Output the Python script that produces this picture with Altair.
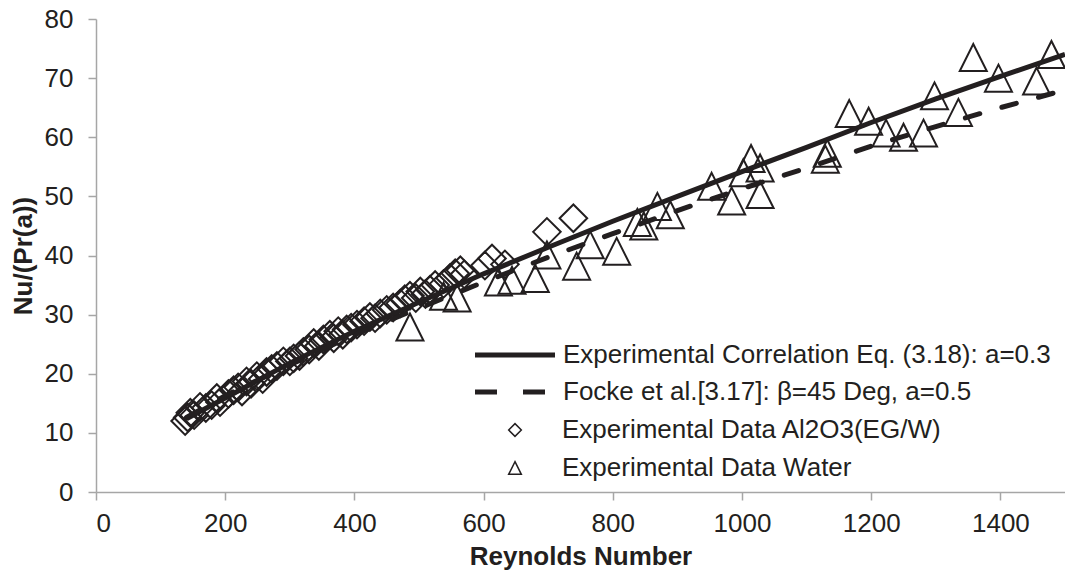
import altair as alt
import pandas as pd

# ---------------- data ----------------
dia_re = [138, 142, 146, 152, 161, 170, 179, 187, 192, 205, 213, 220, 226, 233, 240,
          249, 258, 264, 272, 280, 290, 300, 306, 315, 321, 330, 337, 345, 352, 362,
          368, 375, 382, 388, 395, 404, 415, 424, 432, 440, 450, 460, 471, 478, 486,
          495, 502, 510, 517, 525, 538, 548, 556, 564, 570, 602, 613, 633, 698, 739]
dia_nu = [12.0, 12.6, 13.4, 13.0, 14.4, 14.2, 14.7, 15.9, 15.2, 16.6, 17.2, 17.7, 17.0, 18.7, 18.3,
          19.6, 19.1, 20.3, 20.8, 21.3, 22.1, 22.1, 22.6, 23.0, 23.7, 24.1, 25.2, 24.7, 25.8, 26.6,
          26.0, 27.2, 26.6, 27.5, 27.8, 28.3, 28.9, 29.6, 29.4, 30.2, 30.8, 31.2, 31.9, 32.6, 33.2,
          32.8, 33.9, 33.5, 34.2, 35.0, 35.2, 36.2, 37.0, 37.5, 36.8, 38.3, 39.5, 38.5, 44.0, 46.3]

wat_re = [486, 538, 559, 623, 644, 680, 698, 744, 765, 806, 838, 848, 869, 889, 953,
          984, 1002, 1014, 1028, 1028, 1129, 1132, 1166, 1196, 1223, 1250, 1281, 1298,
          1335, 1358, 1397, 1456, 1479]
wat_nu = [27.9, 33.1, 32.8, 35.5, 35.8, 36.1, 40.1, 38.2, 41.8, 40.7, 45.6, 45.0, 48.3, 46.9, 51.7,
          49.2, 54.0, 56.4, 54.8, 50.3, 56.3, 57.3, 64.0, 62.7, 60.7, 60.0, 60.7, 67.0,
          64.2, 73.5, 70.0, 69.5, 74.0]

line_re = [140, 200, 300, 400, 500, 600, 700, 800, 900, 1000, 1100, 1200, 1300, 1400, 1500]
corr_nu = [12.4, 15.9, 21.8, 27.2, 32.1, 36.9, 41.4, 45.8, 50.0, 54.2, 58.3, 62.5, 66.5, 70.3, 74.0]
focke_nu = [12.6, 16.3, 21.5, 26.6, 31.1, 35.5, 39.7, 43.7, 47.6, 51.3, 54.8, 58.5, 61.8, 65.0, 68.0]

x_ticks = [0, 200, 400, 600, 800, 1000, 1200, 1400]
y_ticks = [0, 10, 20, 30, 40, 50, 60, 70, 80]

S_CORR = "Experimental Correlation Eq. (3.18): a=0.3"
S_FOCKE = "Focke et al.[3.17]: β=45 Deg, a=0.5"
S_AL = "Experimental Data Al2O3(EG/W)"
S_W = "Experimental Data Water"

# ---------------- styling ----------------
INK = "#231f20"
GREY = "#a6a6a6"
FONT = "Liberation Sans"
FS = 26
TRI = "M0,-1L1,1L-1,1Z"

xs = alt.Scale(domain=[0, 1500], nice=False, zero=False)
ys = alt.Scale(domain=[0, 80], nice=False)

x_axis = alt.Axis(values=x_ticks, title="Reynolds Number", format="d",
                  titlePadding=7, labelPadding=10)
y_axis = alt.Axis(values=y_ticks, title="Nu/(Pr(a))", format="d",
                  titlePadding=8, labelPadding=15)

corr_df = pd.DataFrame({"Re": line_re, "v": corr_nu})
focke_df = pd.DataFrame({"Re": line_re, "v": focke_nu})
dia_df = pd.DataFrame({"Re": dia_re, "v": dia_nu})
wat_df = pd.DataFrame({"Re": wat_re, "v": wat_nu})

X = alt.X("Re:Q", scale=xs, axis=x_axis)
Y = alt.Y("v:Q", scale=ys, axis=y_axis)

diamonds = alt.Chart(dia_df).mark_point(
    shape="diamond", size=760, filled=False, stroke=INK, strokeWidth=2, opacity=1
).encode(x=X, y=Y)

triangles = alt.Chart(wat_df).mark_point(
    shape=TRI, size=729, filled=False, stroke=INK, strokeWidth=2, opacity=1
).encode(x=X, y=Y)

solid = alt.Chart(corr_df).mark_line(color=INK, strokeWidth=5).encode(x=X, y=Y)
dashed = alt.Chart(focke_df).mark_line(
    color=INK, strokeWidth=5, strokeDash=[15, 23], strokeCap="round"
).encode(x=X, y=Y)

# legend-only layers (no drawable rows)
leg_lines = pd.DataFrame({"lseries": [S_CORR, S_FOCKE], "Re": [None, None], "v": [None, None]})
leg_pts = pd.DataFrame({"pseries": [S_AL, S_W], "Re": [None, None], "v": [None, None]})

line_legend = alt.Chart(leg_lines).mark_line(color=INK, strokeWidth=5).encode(
    x=X, y=Y,
    strokeDash=alt.StrokeDash(
        "lseries:N",
        scale=alt.Scale(domain=[S_CORR, S_FOCKE], range=[[1, 0], [22, 26]]),
        legend=alt.Legend(
            orient="none", legendX=376.5, legendY=326, title=None,
            symbolType="stroke", symbolSize=6400, symbolStrokeWidth=5,
            symbolStrokeColor=INK, labelFont=FONT, labelFontSize=FS,
            labelColor=INK, labelOffset=5.5, rowPadding=11, clipHeight=20,
            padding=0, labelLimit=800,
        ),
    ),
)

point_legend = alt.Chart(leg_pts).mark_point(
    filled=False, color=INK, strokeWidth=1.5, opacity=1
).encode(
    x=X, y=Y,
    shape=alt.Shape(
        "pseries:N",
        scale=alt.Scale(domain=[S_AL, S_W], range=["diamond", TRI]),
        legend=alt.Legend(
            orient="none", legendX=406, legendY=401, title=None,
            symbolSize=160, symbolStrokeWidth=1.5, symbolStrokeColor=INK,
            symbolFillColor="transparent",
            labelFont=FONT, labelFontSize=FS, labelColor=INK, labelOffset=34,
            rowPadding=12, clipHeight=20, padding=0, labelLimit=800,
        ),
    ),
)

chart = alt.layer(
    diamonds, triangles, solid, dashed, line_legend, point_legend
).properties(
    width=969, height=473,
    autosize=alt.AutoSizeParams(type="none"),
    padding={"left": 96, "top": 19, "right": 0, "bottom": 85},
    background="white",
).configure_view(
    stroke=None
).configure_axis(
    grid=False, domainColor=GREY, domainWidth=1.5, tickColor=GREY, tickWidth=1.5,
    tickSize=8, labelFont=FONT, labelFontSize=FS, labelColor=INK,
    titleFont=FONT, titleFontSize=FS, titleFontWeight="bold", titleColor=INK,
)

chart.save("out.html", embed_options={"renderer": "svg", "actions": False})
